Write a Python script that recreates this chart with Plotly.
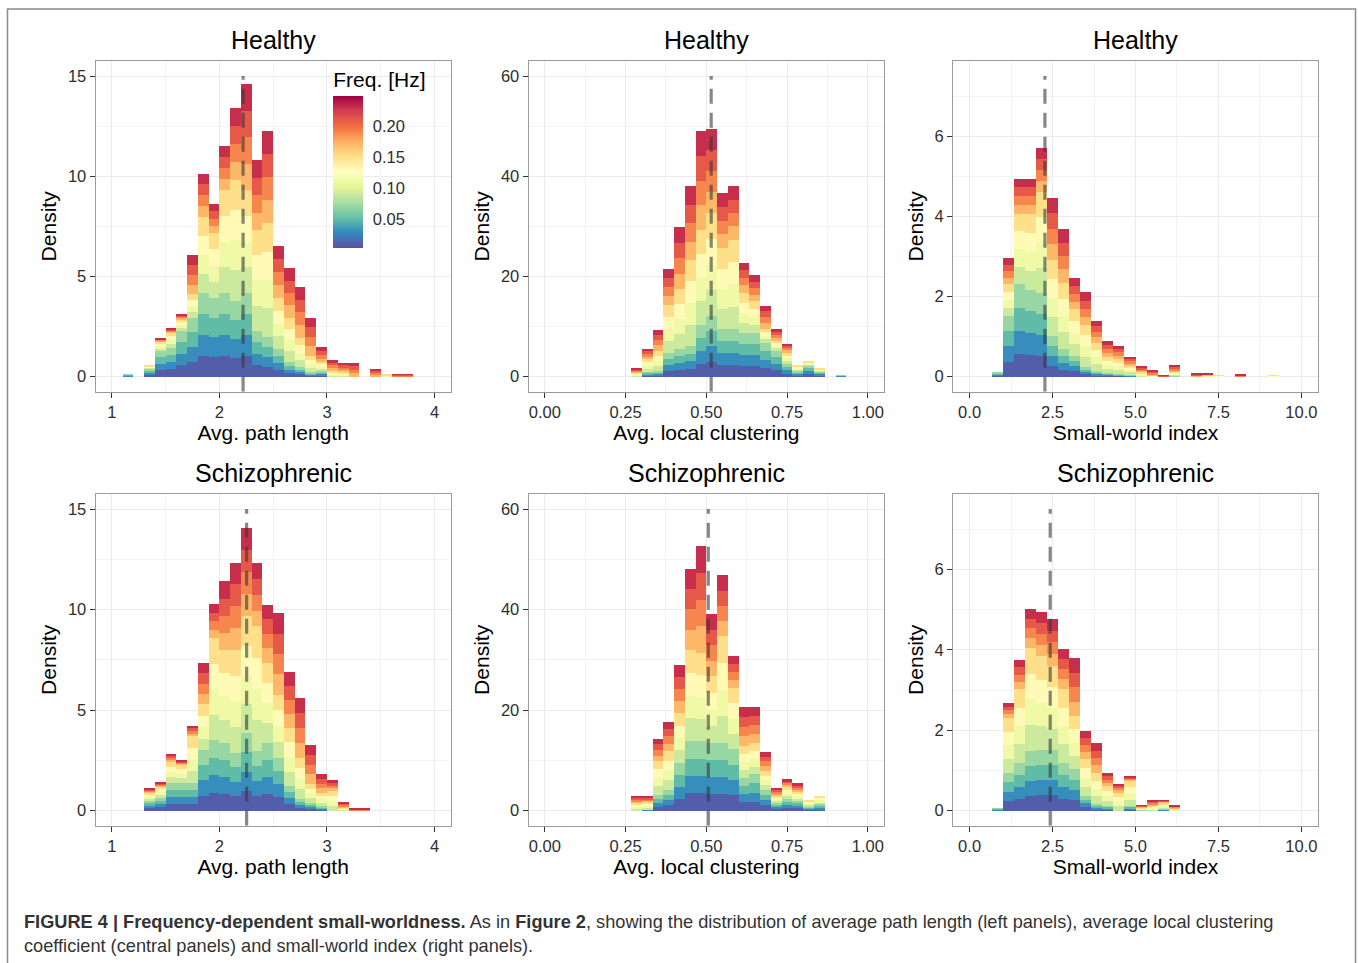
import plotly.graph_objects as go
from plotly.colors import sample_colorscale

W, H = 1358, 963

# ---------------- data ----------------
# Each bin: left edge, total density, cumulative height of the low-frequency
# layers (purple..teal) and of low+mid layers (..light orange).
hc_path_edges = [1.1, 1.3, 1.4, 1.5, 1.6, 1.7, 1.8, 1.9, 2.0, 2.1, 2.2, 2.3, 2.4, 2.5,
                 2.6, 2.7, 2.8, 2.9, 3.0, 3.1, 3.2, 3.4, 3.5, 3.6, 3.7]
hc_path_total = [0.13, 0.55, 1.92, 2.41, 3.14, 6.07, 10.13, 8.61, 11.5, 13.39, 14.6, 10.81,
                 12.28, 6.5, 5.4, 4.48, 2.94, 1.49, 0.83, 0.68, 0.68, 0.38, 0.1, 0.12, 0.12]
hc_path_low = [0.13, 0.4, 1.29, 1.45, 2.28, 2.94, 4.18, 3.93, 4.18, 3.8, 4.18, 2.3, 2.0,
               1.37, 0.71, 0.46, 0.21, 0.3, 0, 0, 0, 0, 0, 0, 0]
hc_path_mid = [0.13, 0.55, 1.75, 2.2, 2.86, 4.1, 7.98, 7.16, 9.3, 9.8, 9.3, 7.3, 7.65,
               3.93, 2.94, 1.95, 1.04, 0.71, 0.3, 0.21, 0, 0, 0.1, 0, 0]

hc_clus_edges = [0.2667, 0.3, 0.3333, 0.3667, 0.4, 0.4333, 0.4667, 0.5, 0.5333, 0.5667,
                 0.6, 0.6333, 0.6667, 0.7, 0.7333, 0.7667, 0.8, 0.8333, 0.9]
hc_clus_total = [1.65, 5.6, 9.3, 21.5, 29.9, 38.0, 49.0, 49.4, 36.7, 38.0, 22.7, 20.2,
                 14.2, 9.6, 6.5, 2.2, 3.0, 1.65, 0.3]
hc_clus_low = [0, 1.0, 1.2, 4.8, 5.5, 6.1, 10.4, 12.1, 9.5, 9.5, 8.8, 8.8, 6.8, 5.2,
               2.5, 1.2, 2.2, 1.1, 0.3]
hc_clus_mid = [0.8, 3.5, 5.2, 14.4, 17.4, 23.3, 29.3, 32.6, 25.6, 27.3, 16.7, 15.1, 9.5,
               7.1, 4.8, 2.2, 3.0, 1.65, 0.3]

hc_sw_edges = [0.6667, 1.0, 1.3333, 1.6667, 2.0, 2.3333, 2.6667, 3.0, 3.3333, 3.6667, 4.0,
               4.3333, 4.6667, 5.0, 5.3333, 5.6667, 6.0, 6.6667, 7.0, 7.3333, 8.0, 9.0]
hc_sw_total = [0.1, 2.96, 4.94, 4.94, 5.7, 4.46, 3.68, 2.46, 2.1, 1.4, 0.89, 0.77, 0.5,
               0.25, 0.17, 0.03, 0.29, 0.08, 0.07, 0.03, 0.05, 0.03]
hc_sw_low = [0.1, 1.51, 2.3, 2.17, 2.09, 1.02, 0.69, 0.52, 0.23, 0.15, 0.1, 0.07, 0.05,
             0, 0, 0, 0.02, 0, 0, 0, 0, 0]
hc_sw_mid = [0.1, 2.3, 4.07, 4.07, 4.6, 2.92, 2.34, 1.68, 1.3, 0.85, 0.48, 0.44, 0.27,
             0.12, 0.03, 0, 0.12, 0, 0.04, 0.03, 0, 0.03]

sz_path_edges = [1.3, 1.4, 1.5, 1.6, 1.7, 1.8, 1.9, 2.0, 2.1, 2.2, 2.3, 2.4, 2.5, 2.6,
                 2.7, 2.8, 2.9, 3.0, 3.1, 3.2, 3.3]
sz_path_total = [1.09, 1.39, 2.83, 2.51, 4.22, 7.33, 10.27, 11.4, 12.34, 14.07, 12.34,
                 10.25, 9.82, 6.9, 5.62, 3.26, 1.8, 1.5, 0.43, 0.1, 0.1]
sz_path_low = [0.48, 0.64, 1.39, 1.39, 1.39, 3.0, 3.5, 3.37, 2.88, 3.87, 2.96, 3.37,
               2.63, 1.22, 0.56, 0.4, 0.23, 0, 0, 0, 0]
sz_path_mid = [0.89, 1.22, 2.46, 2.3, 3.7, 5.3, 8.58, 8.0, 8.0, 9.66, 9.16, 7.34, 5.77,
               4.12, 2.63, 1.31, 0.89, 0.98, 0.15, 0, 0]

sz_clus_edges = [0.2667, 0.3, 0.3333, 0.3667, 0.4, 0.4333, 0.4667, 0.5, 0.5333, 0.5667,
                 0.6, 0.6333, 0.6667, 0.7, 0.7333, 0.7667, 0.8, 0.8333]
sz_clus_total = [2.84, 2.84, 14.3, 17.7, 29.0, 48.1, 52.7, 39.1, 46.8, 30.7, 20.6, 20.6,
                 11.7, 4.5, 6.2, 5.4, 2.05, 2.84]
sz_clus_low = [0, 0.3, 3.2, 4.2, 9.5, 13.8, 13.8, 13.5, 13.5, 12.2, 6.5, 7.2, 4.2, 1.6,
               2.25, 1.9, 0.9, 1.25]
sz_clus_mid = [1.6, 1.72, 9.85, 11.8, 19.4, 32.0, 31.3, 26.7, 34.7, 24.4, 12.8, 13.5,
               7.9, 2.9, 4.8, 3.9, 2.05, 2.84]

sz_sw_edges = [0.6667, 1.0, 1.3333, 1.6667, 2.0, 2.3333, 2.6667, 3.0, 3.3333, 3.6667,
               4.0, 4.3333, 4.6667, 5.0, 5.3333, 5.6667, 6.0]
sz_sw_total = [0.06, 2.68, 3.74, 5.02, 4.95, 4.77, 4.01, 3.79, 1.98, 1.67, 0.93, 0.67,
               0.84, 0.13, 0.26, 0.26, 0.13]
sz_sw_low = [0.06, 0.94, 1.19, 1.48, 1.52, 1.52, 1.19, 1.03, 0.36, 0.16, 0.12, 0, 0.12,
             0.02, 0, 0.05, 0]
sz_sw_mid = [0.06, 2.31, 3.02, 4.05, 3.84, 3.6, 3.02, 2.35, 1.28, 0.94, 0.61, 0.45, 0.74,
             0.08, 0.12, 0.2, 0.05]

# dashed reference lines (x position per panel)
vline_x = [2.22, 0.515, 2.27, 2.253, 0.506, 2.43]

panel_titles = ["Healthy", "Healthy", "Healthy",
                "Schizophrenic", "Schizophrenic", "Schizophrenic"]
x_labels = ["Avg. path length", "Avg. local clustering", "Small-world index"] * 2

path_ticks = [1, 2, 3, 4]
path_ticktext = ["1", "2", "3", "4"]
clus_ticks = [0, 0.25, 0.5, 0.75, 1.0]
clus_ticktext = ["0.00", "0.25", "0.50", "0.75", "1.00"]
sw_ticks = [0, 2.5, 5, 7.5, 10]
sw_ticktext = ["0.0", "2.5", "5.0", "7.5", "10.0"]
path_yticks = [0, 5, 10, 15]
clus_yticks = [0, 20, 40, 60]
sw_yticks = [0, 2, 4, 6]

freq_ticks = [0.05, 0.10, 0.15, 0.20]
freq_ticktext = ["0.05", "0.10", "0.15", "0.20"]
freq_min, freq_max = 0.0034, 0.248
layer_freqs = [0.01, 0.03, 0.05, 0.07, 0.09, 0.11, 0.13, 0.15, 0.17, 0.19, 0.21, 0.23]

# ---------------- styling ----------------
FONT = "Liberation Sans, Arial, Helvetica, sans-serif"
spectral_r = ['#5e4fa2', '#3288bd', '#66c2a5', '#abdda4', '#e6f598', '#ffffbf',
              '#fee08b', '#fdae61', '#f46d43', '#d53e4f', '#9e0142']
cscale = [[i / 10, c] for i, c in enumerate(spectral_r)]
layer_colors = sample_colorscale(cscale, [(f - freq_min) / (freq_max - freq_min) for f in layer_freqs])

col_px = [(95.7, 450.7), (528.7, 884.0), (953.0, 1318.0)]
row_px = [(61.0, 391.7), (494.0, 825.7)]

panels = [
    dict(edges=hc_path_edges, tot=hc_path_total, low=hc_path_low, mid=hc_path_mid, w=0.1,
         xr=[0.85, 4.15], yr=[-0.75, 15.75], ytop=15, xt=(path_ticks, path_ticktext),
         xminor=[1.5, 2.5, 3.5], yt=path_yticks, yminor=[2.5, 7.5, 12.5]),
    dict(edges=hc_clus_edges, tot=hc_clus_total, low=hc_clus_low, mid=hc_clus_mid, w=1 / 30,
         xr=[-0.05, 1.05], yr=[-3, 63], ytop=60, xt=(clus_ticks, clus_ticktext),
         xminor=[0.125, 0.375, 0.625, 0.875], yt=clus_yticks, yminor=[10, 30, 50]),
    dict(edges=hc_sw_edges, tot=hc_sw_total, low=hc_sw_low, mid=hc_sw_mid, w=1 / 3,
         xr=[-0.5, 10.5], yr=[-0.375, 7.875], ytop=7.5, xt=(sw_ticks, sw_ticktext),
         xminor=[1.25, 3.75, 6.25, 8.75], yt=sw_yticks, yminor=[1, 3, 5, 7]),
    dict(edges=sz_path_edges, tot=sz_path_total, low=sz_path_low, mid=sz_path_mid, w=0.1,
         xr=[0.85, 4.15], yr=[-0.75, 15.75], ytop=15, xt=(path_ticks, path_ticktext),
         xminor=[1.5, 2.5, 3.5], yt=path_yticks, yminor=[2.5, 7.5, 12.5]),
    dict(edges=sz_clus_edges, tot=sz_clus_total, low=sz_clus_low, mid=sz_clus_mid, w=1 / 30,
         xr=[-0.05, 1.05], yr=[-3, 63], ytop=60, xt=(clus_ticks, clus_ticktext),
         xminor=[0.125, 0.375, 0.625, 0.875], yt=clus_yticks, yminor=[10, 30, 50]),
    dict(edges=sz_sw_edges, tot=sz_sw_total, low=sz_sw_low, mid=sz_sw_mid, w=1 / 3,
         xr=[-0.5, 10.5], yr=[-0.375, 7.875], ytop=7.5, xt=(sw_ticks, sw_ticktext),
         xminor=[1.25, 3.75, 6.25, 8.75], yt=sw_yticks, yminor=[1, 3, 5, 7]),
]

fig = go.Figure()
layout = {}
annotations = []

for i, p in enumerate(panels):
    r, c = divmod(i, 3)
    xs = "" if i == 0 else str(i + 1)
    xname, yname = "x" + xs, "y" + xs
    x0, x1 = col_px[c]
    y0, y1 = row_px[r]

    # split each bin into 12 frequency layers (4 low, 4 mid, 4 high)
    for li in range(12):
        vals = []
        for t, lo, md in zip(p["tot"], p["low"], p["mid"]):
            if li < 4:
                v = lo / 4
            elif li < 8:
                v = max(md - lo, 0) / 4
            else:
                v = max(t - md, 0) / 4
            vals.append(v)
        fig.add_trace(go.Bar(x=p["edges"], y=vals, width=p["w"], offset=0,
                             marker=dict(color=layer_colors[li], line=dict(width=0)),
                             xaxis=xname, yaxis=yname, showlegend=False,
                             hoverinfo="skip"))

    fig.add_trace(go.Scatter(x=[vline_x[i], vline_x[i]], y=[p["yr"][0], p["ytop"]],
                             mode="lines", xaxis=xname, yaxis=yname, showlegend=False,
                             line=dict(color="rgba(55,55,55,0.6)", width=3.2, dash="15px,9px"),
                             hoverinfo="skip"))

    common = dict(showline=True, mirror=True, linecolor="#9a9a9a", linewidth=1.2,
                  showgrid=True, gridcolor="#ebebeb", gridwidth=1, zeroline=False,
                  ticks="outside", ticklen=5, tickwidth=1, tickcolor="#333333",
                  tickfont=dict(family=FONT, size=16.5, color="#2e2e2e"), fixedrange=True)
    layout["xaxis" + xs] = dict(
        common, domain=[x0 / W, x1 / W], range=p["xr"], anchor=yname,
        tickmode="array", tickvals=p["xt"][0], ticktext=p["xt"][1],
        minor=dict(tickmode="array", tickvals=p["xminor"], showgrid=True,
                   gridcolor="#f3f3f3", gridwidth=0.8, ticks=""),
        title=dict(text=x_labels[i], font=dict(family=FONT, size=21, color="black"),
                   standoff=5))
    layout["yaxis" + xs] = dict(
        common, domain=[1 - y1 / H, 1 - y0 / H], range=p["yr"], anchor=xname,
        tickmode="array", tickvals=p["yt"], ticktext=[str(v) for v in p["yt"]],
        minor=dict(tickmode="array", tickvals=p["yminor"], showgrid=True,
                   gridcolor="#f3f3f3", gridwidth=0.8, ticks=""),
        title=dict(text="Density", font=dict(family=FONT, size=21, color="black"),
                   standoff=5))

    annotations.append(dict(text=panel_titles[i], xref="paper", yref="paper",
                            x=(x0 + x1) / 2 / W, y=1 - (40 if r == 0 else 473) / H,
                            xanchor="center", yanchor="middle", showarrow=False,
                            font=dict(family=FONT, size=25, color="black")))

# colour bar legend
fig.add_trace(go.Scatter(
    x=[None], y=[None], mode="markers", xaxis="x", yaxis="y", showlegend=False,
    marker=dict(color=[freq_min, freq_max], cmin=freq_min, cmax=freq_max,
                colorscale=cscale, showscale=True,
                colorbar=dict(x=333.3 / W, xanchor="left", y=1 - 158 / H, yanchor="middle",
                              lenmode="pixels", len=180, thicknessmode="pixels", thickness=30,
                              xpad=0, ypad=0, outlinewidth=0,
                              tickmode="array", tickvals=freq_ticks, ticktext=freq_ticktext,
                              ticks="outside", ticklen=7, tickcolor="white",
                              tickfont=dict(family=FONT, size=16.5, color="#2e2e2e"),
                              title=dict(text="Freq. [Hz]", side="top",
                                         font=dict(family=FONT, size=21, color="black"))))))

# caption
cap1 = ("<b>FIGURE 4 | Frequency-dependent small-worldness.</b> As in <b>Figure 2</b>, "
        "showing the distribution of average path length (left panels), average local clustering")
cap2 = "coefficient (central panels) and small-world index (right panels)."
for txt, yy in [(cap1, 922), (cap2, 946)]:
    annotations.append(dict(text=txt, xref="paper", yref="paper", x=22 / W, y=1 - yy / H,
                            xanchor="left", yanchor="middle", showarrow=False,
                            font=dict(family=FONT, size=18.2, color="#333333")))

fig.update_layout(
    width=W, height=H, margin=dict(l=0, r=0, t=0, b=0),
    paper_bgcolor="white", plot_bgcolor="white",
    barmode="stack", showlegend=False,
    annotations=annotations,
    shapes=[dict(type="rect", xref="paper", yref="paper", x0=7.5 / W, x1=1355.5 / W,
                 y0=-0.02, y1=1 - 9 / H, line=dict(color="#8a8a8a", width=1.5),
                 fillcolor="rgba(0,0,0,0)", layer="below")],
    **layout)

fig.write_html("out.html")
